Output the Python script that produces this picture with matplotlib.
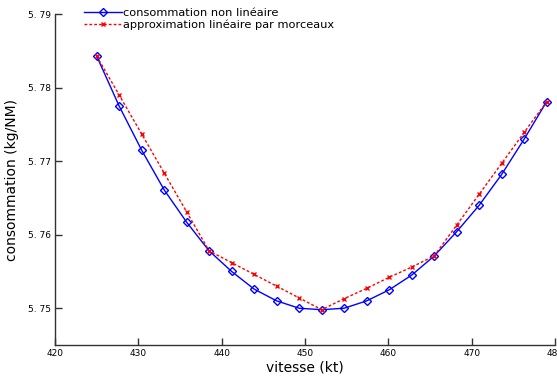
import matplotlib
matplotlib.use("Agg")
import matplotlib.pyplot as plt

# vitesse (kt)
vitesse = [425.0, 427.7, 430.4, 433.1, 435.8, 438.5, 441.2, 443.9, 446.6, 449.3,
           452.0, 454.7, 457.4, 460.1, 462.8, 465.5, 468.2, 470.9, 473.6, 476.3, 479.0]

# consommation non lineaire (kg/NM)
conso = [5.7843, 5.7775, 5.7715, 5.7661, 5.7617, 5.7578, 5.7550, 5.7526, 5.7510, 5.7500,
         5.7498, 5.7500, 5.7510, 5.7525, 5.7545, 5.7571, 5.7604, 5.7640, 5.7682, 5.7730, 5.7781]

# approximation lineaire par morceaux
approx = [5.7843, 5.7790, 5.7737, 5.7684, 5.7631, 5.7578, 5.7562, 5.7546, 5.7530, 5.7514,
          5.7498, 5.7513, 5.7527, 5.7542, 5.7556, 5.7571, 5.7613, 5.7655, 5.7697, 5.7739, 5.7781]

xticks = [420, 430, 440, 450, 460, 470, 480]
yticks = [5.75, 5.76, 5.77, 5.78, 5.79]
ytick_labels = ["5. 75", "5. 76", "5. 77", "5. 78", "5. 79"]

fig = plt.figure(figsize=(5.57, 3.81), dpi=100)
ax = fig.add_axes([0.0987, 0.0945, 0.8977, 0.8685])

ax.plot(vitesse, conso, color="#0000ff", lw=1.0, marker="D", ms=4.2,
        mfc="none", mec="#0000ff", mew=1.0, label="consommation non linéaire")
ax.plot(vitesse, approx, color="#ff0000", lw=1.0, ls=(0, (2, 1.5)), marker="x",
        ms=3, mew=1.0, label="approximation linéaire par morceaux")

ax.set_xlim(420, 480)
ax.set_ylim(5.745, 5.79)
ax.set_xticks(xticks)
ax.set_xticklabels([str(t) for t in xticks], fontsize=6.5)
ax.set_yticks(yticks)
ax.set_yticklabels(ytick_labels, fontsize=6.5)
ax.tick_params(direction="in", length=5, width=1, color="#333333", pad=3)

for s in ("top", "right"):
    ax.spines[s].set_visible(False)
for s in ("left", "bottom"):
    ax.spines[s].set_color("#333333")
    ax.spines[s].set_linewidth(1.0)

ax.set_xlabel("vitesse (kt)", fontsize=10, labelpad=2)
ax.set_ylabel("consommation (kg/NM)", fontsize=10, labelpad=6)

leg = ax.legend(loc="upper left", bbox_to_anchor=(0.047, 1.036), frameon=False,
                fontsize=8.2, handlelength=3.3, handletextpad=0.1,
                labelspacing=0.15, borderpad=0)

fig.savefig("out.png", dpi=100)
